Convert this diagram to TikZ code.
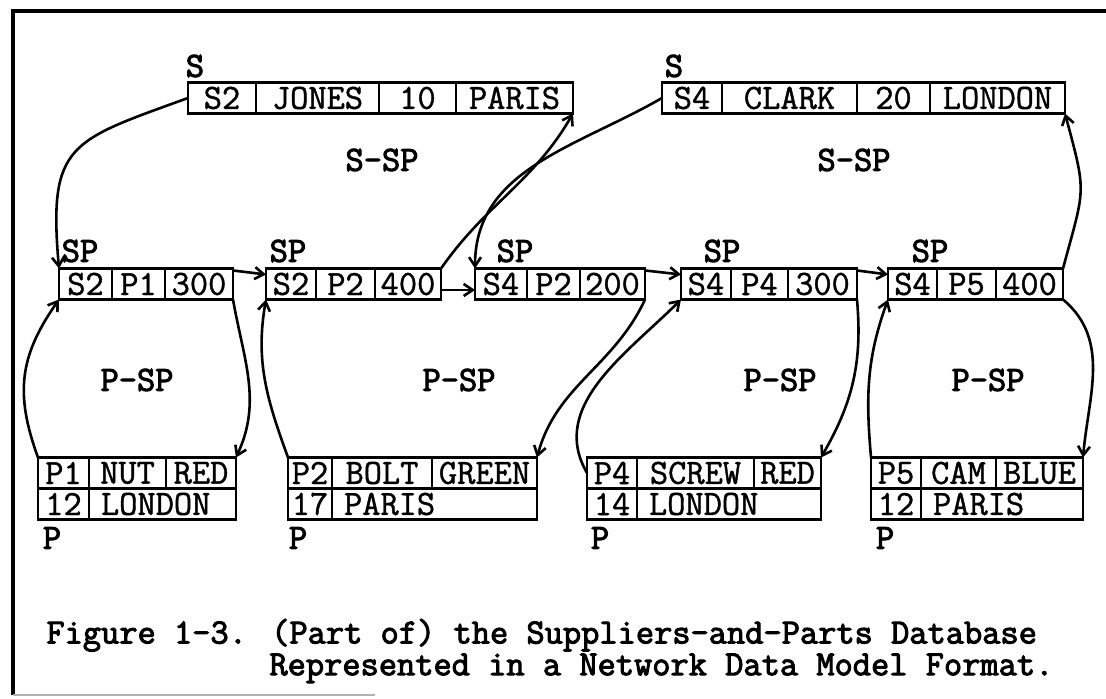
\documentclass[tikz,border=0pt]{standalone}
\usepackage{fontspec}
\newfontfamily\recfont{Latin Modern Mono}[FakeBold=1.2]
\newfontfamily\lblfont{Latin Modern Mono}[FakeBold=2.8]
\usetikzlibrary{arrows.meta}

\begin{document}
\begin{tikzpicture}[x=0.5pt, y=0.5pt,
		font=\recfont\fontsize{17.7}{14}\selectfont,
		cell/.style={draw, line width=1.3pt, inner sep=0pt, outer sep=0pt, minimum height=15.5pt},
		wide/.style={cell, align=left, inner xsep=6pt, text width=#1},
		lbl/.style={inner sep=0pt, font=\lblfont\fontsize{17.7}{14}\selectfont},
		link/.style={line width=1.3pt, -{Straight Barb[length=4.5pt, width=6pt]}},
		frame/.style={line width=1.8pt}]
		\useasboundingbox (0,0) rectangle (1106,-699);

		\draw[frame] (13,-695) -- (13,-11) -- (1106,-11);
		\draw[gray!60, line width=1pt] (13,-695) -- (375,-695);

		\foreach \xa/\xb/\txt [count=\i] in {188/256/S2, 256/379/JONES, 379/456/10, 456/573/PARIS}
			\node[cell, minimum width={(\xb-\xa)*0.5pt}] (s2-\i) at ({(\xa+\xb)/2},-98) {\txt};
		\foreach \xa/\xb/\txt [count=\i] in {662/722/S4, 722/857/CLARK, 857/930/20, 930/1065/LONDON}
			\node[cell, minimum width={(\xb-\xa)*0.5pt}] (s4-\i) at ({(\xa+\xb)/2},-98) {\txt};

		\foreach \xa/\xb/\txt [count=\i] in {59/112/S2, 112/165/P1, 165/233/300}
			\node[cell, minimum width={(\xb-\xa)*0.5pt}] (sp1-\i) at ({(\xa+\xb)/2},-284) {\txt};
		\foreach \xa/\xb/\txt [count=\i] in {266/316/S2, 316/375/P2, 375/441/400}
			\node[cell, minimum width={(\xb-\xa)*0.5pt}] (sp2-\i) at ({(\xa+\xb)/2},-284) {\txt};
		\foreach \xa/\xb/\txt [count=\i] in {475/527/S4, 527/580/P2, 580/645/200}
			\node[cell, minimum width={(\xb-\xa)*0.5pt}] (sp3-\i) at ({(\xa+\xb)/2},-284) {\txt};
		\foreach \xa/\xb/\txt [count=\i] in {681/731/S4, 731/788/P4, 788/857/300}
			\node[cell, minimum width={(\xb-\xa)*0.5pt}] (sp4-\i) at ({(\xa+\xb)/2},-284) {\txt};
		\foreach \xa/\xb/\txt [count=\i] in {888/937/S4, 937/996/P5, 996/1063/400}
			\node[cell, minimum width={(\xb-\xa)*0.5pt}] (sp5-\i) at ({(\xa+\xb)/2},-284) {\txt};

		\foreach \xa/\xb/\txt [count=\i] in {38/89/P1, 89/166/NUT, 166/236/RED}
			\node[cell, minimum width={(\xb-\xa)*0.5pt}] (p1-\i) at ({(\xa+\xb)/2},-473) {\txt};
		\node[cell, minimum width=25.5pt] (p1-4) at (63.5,-504) {12};
		\node[wide=61.5pt] (p1-5) at (162.5,-504) {LONDON};

		\foreach \xa/\xb/\txt [count=\i] in {288/332/P2, 332/432/BOLT, 432/537/GREEN}
			\node[cell, minimum width={(\xb-\xa)*0.5pt}] (p2-\i) at ({(\xa+\xb)/2},-473) {\txt};
		\node[cell, minimum width=22pt] (p2-4) at (310,-504) {17};
		\node[wide=90.5pt] (p2-5) at (434.5,-504) {PARIS};

		\foreach \xa/\xb/\txt [count=\i] in {587/637/P4, 637/754/SCREW, 754/821/RED}
			\node[cell, minimum width={(\xb-\xa)*0.5pt}] (p4-\i) at ({(\xa+\xb)/2},-473) {\txt};
		\node[cell, minimum width=25pt] (p4-4) at (612,-504) {14};
		\node[wide=80pt] (p4-5) at (729,-504) {LONDON};

		\foreach \xa/\xb/\txt [count=\i] in {871/921/P5, 921/996/CAM, 996/1083/BLUE}
			\node[cell, minimum width={(\xb-\xa)*0.5pt}] (p5-\i) at ({(\xa+\xb)/2},-473) {\txt};
		\node[cell, minimum width=25pt] (p5-4) at (896,-504) {12};
		\node[wide=69pt] (p5-5) at (1002,-504) {PARIS};

		\node[lbl] (s2-lbl) at (195,-66) {S};
		\node[lbl] (s4-lbl) at (674,-66) {S};
		\node[lbl] (sp1-lbl) at (80,-251) {SP};
		\node[lbl] (sp2-lbl) at (288,-251) {SP};
		\node[lbl] (sp3-lbl) at (515,-251) {SP};
		\node[lbl] (sp4-lbl) at (722,-251) {SP};
		\node[lbl] (sp5-lbl) at (930,-251) {SP};
		\node[lbl] (p1-lbl) at (52,-538) {P};
		\node[lbl] (p2-lbl) at (298,-538) {P};
		\node[lbl] (p4-lbl) at (600,-538) {P};
		\node[lbl] (p5-lbl) at (885,-538) {P};
		\node[lbl] (s2-set) at (382,-160) {S-SP};
		\node[lbl] (s4-set) at (854,-160) {S-SP};
		\node[lbl] (p1-set) at (137,-380) {P-SP};
		\node[lbl] (p2-set) at (459,-380) {P-SP};
		\node[lbl] (p4-set) at (780,-380) {P-SP};
		\node[lbl] (p5-set) at (988,-380) {P-SP};

		\draw[link] (s2-1.west) to[out=200, in=95, looseness=1.5] (sp1-1.north west);
		\draw[link] ([yshift=-1pt]sp1-3.north east) -- ([yshift=-3pt]sp2-1.north west);
		\draw[link] (sp2-3.north east) to[out=55, in=240] (s2-4.south east);
		\draw[link] ([yshift=-3pt]sp2-3.east) -- ([yshift=-3pt]sp3-1.west);
		\draw[link] (s4-1.west) to[out=210, in=90] (sp3-1.north west);
		\draw[link] ([yshift=-1pt]sp3-3.north east) -- ([yshift=-3pt]sp4-1.north west);
		\draw[link] ([yshift=-1pt]sp4-3.north east) -- ([yshift=-3pt]sp5-1.north west);
		\draw[link] (sp5-3.north east) to[out=75, in=-75, looseness=1.4] (s4-4.south east);

		\draw[link] (p1-1.north west) to[out=110, in=235, looseness=1.1] (sp1-1.south west);
		\draw[link] (sp1-3.south east) to[out=-80, in=65] (p1-3.north east);
		\draw[link] (p2-1.north west) to[out=110, in=260] (sp2-1.south west);
		\draw[link] (sp3-3.south east) to[out=245, in=75] (p2-3.north east);
		\draw[link] (p4-1.west) to[out=120, in=225] (sp4-1.south west);
		\draw[link] (sp4-3.south east) to[out=-85, in=60] (p4-3.north east);
		\draw[link] (p5-1.north west) to[out=95, in=250] (sp5-1.south west);
		\draw[link] (sp5-3.south east) to[out=-40, in=85] (p5-3.north east);

		\node[lbl, align=left, anchor=west] (caption) at (46,-651) {Figure 1-3. (Part of) the Suppliers-and-Parts Database\\\hspace*{6.3em}Represented in a Network Data Model Format.};
	\end{tikzpicture}
\end{document}
